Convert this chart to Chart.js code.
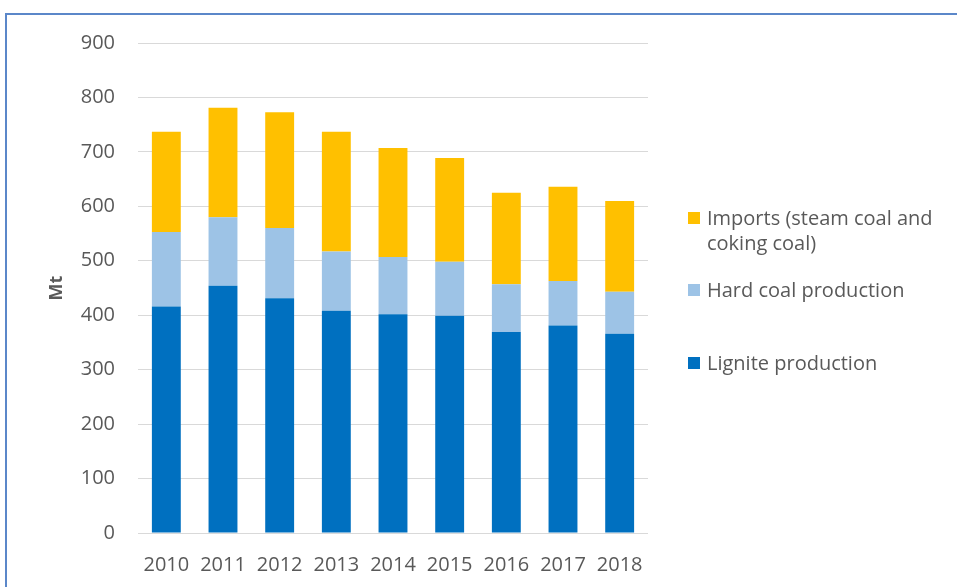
<!DOCTYPE html>
<html lang="en">
<head>
    <meta charset="UTF-8">
    <title>Coal supply (Mt)</title>
    <script src="https://cdn.jsdelivr.net/npm/chart.js"></script>
    <style>
        html, body { margin: 0; padding: 0; background: #fff; overflow: hidden; }
        #frame {
            position: absolute; left: 5px; top: 13px; width: 1000px; height: 700px;
            border: 2px solid #5b87c9; box-sizing: border-box;
        }
        #wrap { position: absolute; left: 0; top: 0; width: 957px; height: 587px; }
        #legend { position: absolute; left: 0; top: 0; font-family: "Open Sans", sans-serif; font-size: 20px; color: #595959; }
        .item { position: absolute; left: 688px; width: 262px; line-height: 25px; }
        .item span.box { position: absolute; left: 0; top: 7px; width: 12px; height: 12px; }
        .item span.txt { display: block; margin-left: 19px; }
    </style>
</head>
<body>
    <div id="frame"></div>
    <div id="wrap"><canvas id="coalChart" width="957" height="587"></canvas></div>
    <div id="legend"></div>

    <script>
        // values, Mt
        const years = ['2010', '2011', '2012', '2013', '2014', '2015', '2016', '2017', '2018'];
        const lignite = [416, 454, 431, 408, 402, 399, 369, 381, 366];
        const hardCoal = [137, 126, 129, 109, 105, 99, 88, 82, 77];
        const imports = [184, 201, 213, 220, 200, 191, 168, 173, 167];
        const seriesNames = ['Lignite production', 'Hard coal production', 'Imports (steam coal and coking coal)'];
        const seriesColors = ['#0070C0', '#9DC3E6', '#FFC000'];

        const textColor = '#595959';
        const font = { family: '"Open Sans", sans-serif', size: 20 };

        const ctx = document.getElementById('coalChart').getContext('2d');
        const chart = new Chart(ctx, {
            type: 'bar',
            data: {
                labels: years,
                datasets: [lignite, hardCoal, imports].map((vals, i) => ({
                    label: seriesNames[i],
                    data: vals,
                    backgroundColor: seriesColors[i],
                    barPercentage: 0.51,
                    categoryPercentage: 1.0
                }))
            },
            options: {
                responsive: false,
                animation: false,
                layout: { padding: { left: 0, right: 309, top: 43, bottom: 0 } },
                plugins: { legend: { display: false }, tooltip: { enabled: false } },
                scales: {
                    x: {
                        stacked: true,
                        grid: { display: false, drawTicks: false },
                        border: { display: false },
                        ticks: { color: textColor, font: font, padding: 20, maxRotation: 0 },
                        afterFit: s => { s.height = 54; }
                    },
                    y: {
                        stacked: true,
                        min: 0, max: 900,
                        grid: { color: '#D9D9D9', drawTicks: false },
                        border: { display: false },
                        ticks: { stepSize: 100, color: textColor, font: font, padding: 23 },
                        title: {
                            display: true, text: 'Mt', color: textColor,
                            font: { family: '"Open Sans", sans-serif', size: 18, weight: 'bold' },
                            padding: { top: 46, bottom: 0 }
                        },
                        afterFit: s => { s.width = 138; }
                    }
                }
            }
        });

        // legend in the Excel style, top entry first
        const legendTops = [350, 277, 205];
        const legend = document.getElementById('legend');
        chart.data.datasets.forEach((ds, i) => {
            const item = document.createElement('div');
            item.className = 'item';
            item.style.top = legendTops[i] + 'px';
            item.innerHTML = '<span class="box" style="background:' + ds.backgroundColor + '"></span>' +
                '<span class="txt">' + ds.label + '</span>';
            legend.appendChild(item);
        });
    </script>
</body>
</html>
